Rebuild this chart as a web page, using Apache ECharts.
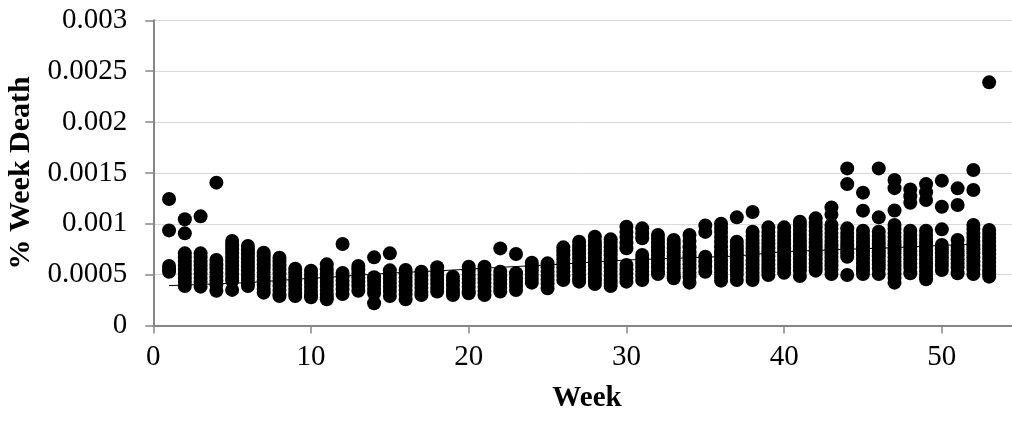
<!DOCTYPE html>
<html>
<head>
<meta charset="utf-8">
<script src="https://cdn.jsdelivr.net/npm/echarts@6/dist/echarts.min.js"></script>
<style>
html,body{margin:0;padding:0;background:#fff;}
#chart{width:1012px;height:421px;}
</style>
</head>
<body>
<div id="chart"></div>
<script>
// Weekly death rates (one list per week, weeks 1..53)
const weekValues = [
  [0.001243, 0.000935, 0.000585, 0.000555, 0.000529],
  [0.001044, 0.000906, 0.000709, 0.00067, 0.00063, 0.00059, 0.00055, 0.00051, 0.00047, 0.00043, 0.000388],
  [0.001073, 0.000709, 0.00067, 0.00063, 0.00059, 0.00055, 0.00051, 0.00047, 0.00043, 0.000382],
  [0.001404, 0.000644, 0.0006, 0.00056, 0.00052, 0.00048, 0.00044, 0.0004, 0.000342],
  [0.00083, 0.00079, 0.00075, 0.00071, 0.00067, 0.00063, 0.00059, 0.00055, 0.00051, 0.00047, 0.00044, 0.00035],
  [0.000781, 0.00074, 0.0007, 0.00066, 0.00062, 0.00058, 0.00054, 0.0005, 0.00046, 0.00042, 0.000388],
  [0.000716, 0.00068, 0.00064, 0.0006, 0.00056, 0.00052, 0.00048, 0.00044, 0.0004, 0.00036, 0.000323],
  [0.000667, 0.00063, 0.00059, 0.00055, 0.00051, 0.00047, 0.00043, 0.00039, 0.00035, 0.00031, 0.00029],
  [0.000559, 0.00052, 0.00048, 0.00044, 0.0004, 0.00036, 0.00032, 0.00029],
  [0.000539, 0.0005, 0.00046, 0.00042, 0.00038, 0.00034, 0.0003, 0.000277],
  [0.000601, 0.00055, 0.00051, 0.00047, 0.00043, 0.00039, 0.00035, 0.00031, 0.00028, 0.000257],
  [0.000801, 0.000516, 0.00048, 0.00044, 0.0004, 0.00036, 0.00031],
  [0.000585, 0.00055, 0.00051, 0.00047, 0.00043, 0.00039, 0.000342],
  [0.00067, 0.000474, 0.00044, 0.0004, 0.00036, 0.000316, 0.000218],
  [0.000709, 0.000542, 0.0005, 0.00046, 0.00042, 0.00038, 0.00034, 0.00029],
  [0.000546, 0.00051, 0.00047, 0.00043, 0.00039, 0.00035, 0.00031, 0.000257],
  [0.000529, 0.00049, 0.00045, 0.00041, 0.00037, 0.00033, 0.0003],
  [0.000572, 0.00053, 0.00049, 0.00045, 0.00041, 0.00037, 0.000333],
  [0.00048, 0.00044, 0.0004, 0.00036, 0.00033, 0.0003],
  [0.000578, 0.00054, 0.0005, 0.00046, 0.00042, 0.00038, 0.00034, 0.000316],
  [0.000578, 0.00054, 0.0005, 0.00046, 0.00042, 0.00038, 0.00034, 0.0003],
  [0.000758, 0.000529, 0.00049, 0.00045, 0.00041, 0.00037, 0.000333],
  [0.000703, 0.000513, 0.00047, 0.00043, 0.00039, 0.000349],
  [0.000618, 0.00058, 0.00054, 0.0005, 0.00046, 0.000421],
  [0.000611, 0.00057, 0.00053, 0.00049, 0.00045, 0.00041, 0.000365],
  [0.000768, 0.00073, 0.00069, 0.00065, 0.00061, 0.00057, 0.00053, 0.00049, 0.000447],
  [0.000824, 0.00078, 0.00074, 0.0007, 0.00066, 0.00062, 0.00058, 0.00054, 0.0005, 0.00046, 0.000431],
  [0.000873, 0.00083, 0.00079, 0.00075, 0.00071, 0.00067, 0.00063, 0.00059, 0.00055, 0.00051, 0.00047, 0.00044, 0.000408],
  [0.000847, 0.00081, 0.00077, 0.00073, 0.00069, 0.00065, 0.00061, 0.00057, 0.00053, 0.00049, 0.00045, 0.00042, 0.000388],
  [0.000971, 0.00092, 0.00087, 0.00081, 0.00076, 0.000594, 0.00055, 0.00051, 0.00047, 0.000431],
  [0.000955, 0.000905, 0.000857, 0.000693, 0.00065, 0.00061, 0.00057, 0.00053, 0.00049, 0.000447],
  [0.00089, 0.00085, 0.00081, 0.00077, 0.00073, 0.00069, 0.00065, 0.00061, 0.00057, 0.00053, 0.000506],
  [0.00084, 0.0008, 0.00076, 0.00072, 0.00068, 0.00064, 0.0006, 0.00056, 0.00052, 0.00049, 0.000464],
  [0.00089, 0.00083, 0.00077, 0.00072, 0.00068, 0.00064, 0.0006, 0.00056, 0.00052, 0.00048, 0.000421],
  [0.000984, 0.00092, 0.000677, 0.00063, 0.00058, 0.000529],
  [0.001, 0.00096, 0.00092, 0.00087, 0.00082, 0.00077, 0.00072, 0.00068, 0.00064, 0.0006, 0.00056, 0.00052, 0.00048, 0.000441],
  [0.001063, 0.000824, 0.00078, 0.00074, 0.0007, 0.00066, 0.00062, 0.00058, 0.00054, 0.0005, 0.000447],
  [0.001116, 0.000922, 0.00088, 0.00084, 0.0008, 0.00076, 0.00072, 0.00068, 0.00064, 0.0006, 0.00056, 0.00052, 0.00048, 0.000447],
  [0.000965, 0.00092, 0.00088, 0.00084, 0.0008, 0.00076, 0.00072, 0.00068, 0.00064, 0.0006, 0.00056, 0.00053, 0.000496],
  [0.000965, 0.00092, 0.00088, 0.00084, 0.0008, 0.00076, 0.00072, 0.00068, 0.00064, 0.0006, 0.00056, 0.000519],
  [0.00102, 0.00098, 0.00094, 0.0009, 0.00086, 0.00082, 0.00078, 0.00074, 0.0007, 0.00066, 0.00062, 0.00058, 0.00054, 0.000487],
  [0.001053, 0.00101, 0.00097, 0.00093, 0.00089, 0.00085, 0.00081, 0.00077, 0.00073, 0.00069, 0.00065, 0.00061, 0.00057, 0.000539],
  [0.00116, 0.00109, 0.000988, 0.00095, 0.00091, 0.00087, 0.00083, 0.00079, 0.00075, 0.00071, 0.00067, 0.00063, 0.00059, 0.00055, 0.000506],
  [0.001544, 0.00139, 0.000955, 0.00091, 0.00087, 0.00083, 0.00079, 0.00075, 0.00071, 0.000676, 0.000496],
  [0.001306, 0.001129, 0.000932, 0.00089, 0.00085, 0.00081, 0.00077, 0.00073, 0.00069, 0.00065, 0.00061, 0.00057, 0.00054, 0.000506],
  [0.001544, 0.001063, 0.000922, 0.00088, 0.00084, 0.0008, 0.00076, 0.00072, 0.00068, 0.00064, 0.0006, 0.00056, 0.000506],
  [0.00143, 0.00135, 0.00113, 0.000988, 0.00095, 0.00091, 0.00087, 0.00083, 0.00079, 0.00075, 0.00071, 0.00067, 0.00063, 0.00059, 0.00055, 0.00051, 0.00047, 0.000421],
  [0.001338, 0.00127, 0.001207, 0.000932, 0.00089, 0.00085, 0.00081, 0.00077, 0.00073, 0.00069, 0.00065, 0.00061, 0.00057, 0.000513],
  [0.00139, 0.00131, 0.001234, 0.000932, 0.00089, 0.00085, 0.00081, 0.00077, 0.00073, 0.00069, 0.00065, 0.00061, 0.00057, 0.00053, 0.00049, 0.000454],
  [0.001424, 0.001168, 0.000945, 0.000791, 0.00075, 0.00071, 0.00067, 0.00063, 0.00059, 0.000545],
  [0.001348, 0.001184, 0.00084, 0.000775, 0.00073, 0.00069, 0.00065, 0.00061, 0.00057, 0.000513],
  [0.001528, 0.001332, 0.000988, 0.00095, 0.00091, 0.00087, 0.00083, 0.00079, 0.00075, 0.00071, 0.00067, 0.00063, 0.00059, 0.00055, 0.000506],
  [0.00239, 0.000939, 0.0009, 0.00086, 0.00082, 0.00078, 0.00074, 0.0007, 0.00066, 0.00062, 0.00058, 0.00054, 0.00051, 0.00048]
];
// Trend line
const trendWeeks = [1, 6, 9, 11, 15, 19, 22, 25, 30, 33, 37, 40, 44, 47, 49, 52];
const trendValues = [0.000392, 0.000421, 0.000454, 0.000473, 0.000515, 0.000545, 0.000572, 0.000595, 0.000644, 0.00066, 0.000683, 0.000726, 0.000749, 0.000765, 0.000781, 0.0008];

const xTitle = 'Week';
const yTitle = '% Week Death';

const scatterData = [];
weekValues.forEach((vals, i) => vals.forEach(v => scatterData.push([i + 1, v])));
const trendData = trendWeeks.map((w, i) => [w, trendValues[i]]);

const font = 'Liberation Serif, Times New Roman, serif';
const axisColor = '#868686';

const chart = echarts.init(document.getElementById('chart'), null, {renderer: 'canvas'});
chart.setOption({
  animation: false,
  backgroundColor: '#ffffff',
  grid: {left: 153.3, top: 20.3, bottom: 95.5, right: -8.7, outerBoundsMode: 'none', containLabel: false},
  xAxis: {
    type: 'value', min: 0, max: 55, interval: 10,
    name: xTitle, nameLocation: 'middle', nameGap: 59,
    nameTextStyle: {fontFamily: font, fontSize: 29, fontWeight: 'bold', color: '#000'},
    axisLine: {show: true, onZero: false, lineStyle: {color: axisColor, width: 2}},
    axisTick: {show: true, inside: false, length: 8, lineStyle: {color: axisColor, width: 1.5}},
    axisLabel: {fontFamily: font, fontSize: 29, color: '#000', margin: 17, showMaxLabel: false},
    splitLine: {show: false}
  },
  yAxis: {
    type: 'value', min: 0, max: 0.003, interval: 0.0005,
    name: yTitle, nameLocation: 'middle', nameGap: 113, nameRotate: 90,
    nameTextStyle: {fontFamily: font, fontSize: 30, fontWeight: 'bold', color: '#000'},
    axisLine: {show: true, lineStyle: {color: axisColor, width: 2}},
    axisTick: {show: true, inside: false, length: 8, lineStyle: {color: axisColor, width: 1.5}},
    axisLabel: {fontFamily: font, fontSize: 29, color: '#000', margin: 26,
      formatter: v => String(+v.toFixed(4))},
    splitLine: {show: true, lineStyle: {color: '#d9d9d9', width: 1}}
  },
  series: [
    {
      type: 'scatter', data: scatterData, symbol: 'circle', symbolSize: 14,
      itemStyle: {color: '#000000', opacity: 1}, z: 2
    },
    {
      type: 'line', data: trendData, showSymbol: false, symbol: 'none',
      lineStyle: {color: '#000000', width: 1}, z: 3
    }
  ]
});
</script>
</body>
</html>
